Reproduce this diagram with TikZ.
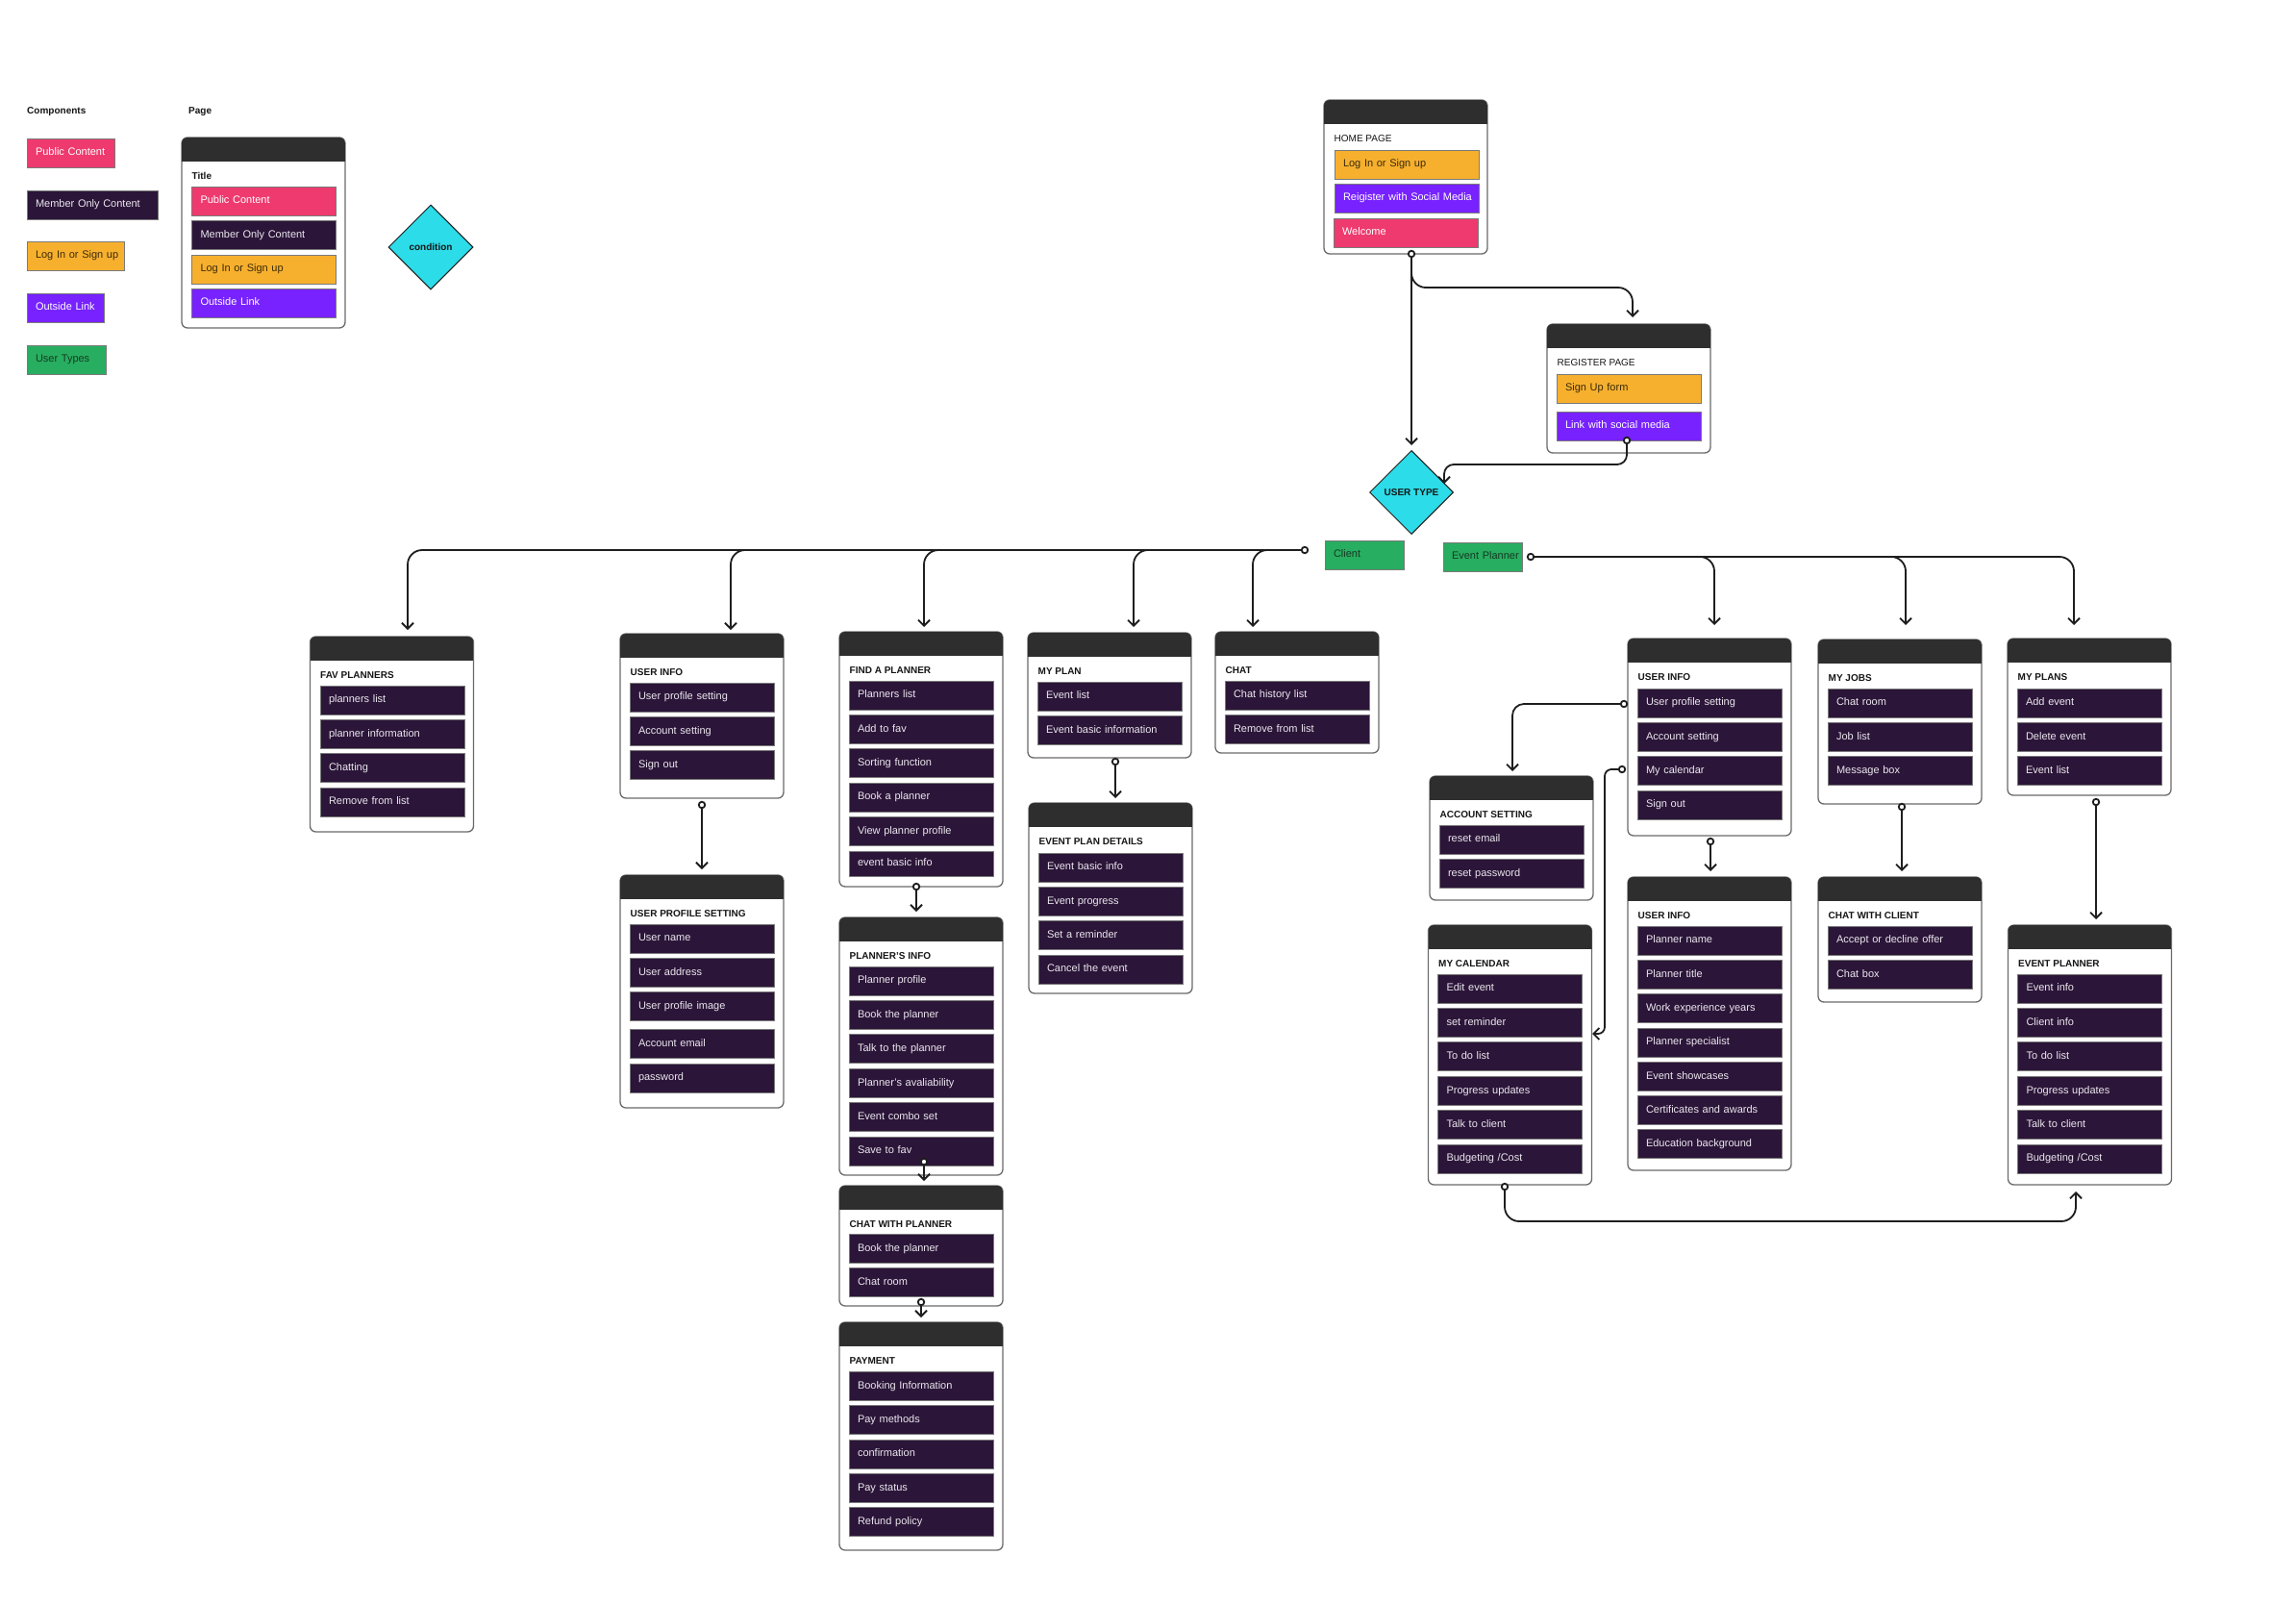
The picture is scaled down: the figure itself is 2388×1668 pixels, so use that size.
\documentclass[tikz,border=0pt]{standalone}
\usepackage{fontspec}
\setmainfont{Liberation Sans}
\usetikzlibrary{shapes.geometric,arrows.meta}
\definecolor{cPub}{HTML}{EE3A6E}
\definecolor{cMem}{HTML}{2B1538}
\definecolor{cMemT}{HTML}{ECE8F0}
\definecolor{cLog}{HTML}{F7B02E}
\definecolor{cLogT}{HTML}{3A2A0A}
\definecolor{cOut}{HTML}{7722FF}
\definecolor{cUsr}{HTML}{28AE60}
\definecolor{cUsrT}{HTML}{163A24}
\definecolor{cCond}{HTML}{2CDCE8}
\definecolor{cHdr}{HTML}{2E2E2E}
\definecolor{cLine}{HTML}{1E1E1E}
\definecolor{cBord}{HTML}{6A6A6A}
\definecolor{cIB}{HTML}{7A7A7A}
\definecolor{cTtl}{HTML}{151515}
\tikzset{
  pg/.style={rectangle, draw=cBord, line width=1.3pt, fill=white, rounded corners=6pt,
    anchor=north west, inner sep=0pt, outer sep=0pt, minimum width=170pt},
  ttl/.style={anchor=base west, inner sep=0pt, text=cTtl},
  hd/.style={anchor=base west, inner sep=0pt, text=cTtl, font=\fontsize{10}{12}\selectfont\bfseries},
  itm/.style={rectangle, draw=cIB, line width=0.8pt, anchor=north west, minimum height=30pt,
    text width=132pt, inner xsep=9pt, inner ysep=0pt, align=left, outer sep=0pt,
    font=\fontsize{11}{13}\selectfont, text height=7.8pt, text depth=2.2pt},
  mem/.style={itm, fill=cMem, text=cMemT},
  pub/.style={itm, fill=cPub, text=white},
  logs/.style={itm, fill=cLog, text=cLogT},
  outl/.style={itm, fill=cOut, text=white},
  usr/.style={itm, fill=cUsr, text=cUsrT},
  dia/.style={diamond, draw=cLine, line width=1pt, fill=cCond, aspect=1, inner sep=0pt,
    font=\fontsize{10}{12}\selectfont\bfseries, text=cTtl},
  pin/.style={circle, draw=cLine, line width=1.8pt, fill=white, minimum size=6.5pt, inner sep=0pt},
  conn/.style={draw=cLine, line width=1.8pt, rounded corners=15pt,
    -{Straight Barb[length=6pt,width=12pt]}},
}
\newcommand\pbox[6][\bfseries]{%
  \node[pg, minimum height={(#5-#4)*1pt}] (#2) at (#3,#4) {};
  \begin{scope}
    \clip[rounded corners=6pt] (#2.north west) rectangle (#2.south east);
    \fill[cHdr] (#2.north west) rectangle ([yshift=-25pt]#2.north east);
  \end{scope}
  \node[ttl, font=\fontsize{10}{12}\selectfont#1] (#2-t) at ([xshift=10.5pt,yshift=-43.6pt]#2.north west) {#6};
}
\newcommand\itemlist[6][35.3]{%
  \foreach \t [count=\i] in {#6} {
    \node[#2] (#3-\i) at (#4, {#5+(\i-1)*#1}) {\mbox{\t}};
  }
}
\begin{document}
\begin{tikzpicture}[x=1pt,y=-1pt]
\fill[white] (0,0) rectangle (2388,1668);
\useasboundingbox (0,0) rectangle (2388,1668);

% ---------- legend ----------
\node[hd] (lgc) at (28,118.6) {Components};
\node[hd] (lgpg) at (196,118.6) {Page};
\node[pub, text width=73pt] (lg1) at (28,144) {\mbox{Public Content}};
\node[mem, text width=118pt] (lg2) at (28,198) {\mbox{Member Only Content}};
\node[logs, text width=83pt] (lg3) at (28,251) {\mbox{Log In or Sign up}};
\node[outl, text width=62pt] (lg4) at (28,305) {\mbox{Outside Link}};
\node[usr, text width=64pt] (lg5) at (28,359) {\mbox{User Types}};

\pbox{lgp}{189}{143}{341}{Title}
\node[pub] (lgp-1) at (199.5,194) {\mbox{Public Content}};
\node[mem] (lgp-2) at (199.5,229.5) {\mbox{Member Only Content}};
\node[logs] (lgp-3) at (199.5,265) {\mbox{Log In or Sign up}};
\node[outl] (lgp-4) at (199.5,300) {\mbox{Outside Link}};

\node[dia, minimum size=88pt] (cond) at (448,257) {condition};

% ---------- entry ----------
\pbox[\mdseries]{home}{1377}{104}{264}{HOME PAGE}
\node[logs] (home-1) at (1388,156) {\mbox{Log In or Sign up}};
\node[outl] (home-2) at (1388,191) {\mbox{Reigister with Social Media}};
\node[pub] (home-3) at (1387,227) {\mbox{Welcome}};

\pbox[\mdseries]{reg}{1609}{337}{471}{REGISTER PAGE}
\node[logs] (reg-1) at (1619,389) {\mbox{Sign Up form}};
\node[outl] (reg-2) at (1619,428) {\mbox{Link with social media}};

\node[dia, minimum size=87pt] (ut) at (1468,512) {USER TYPE};

\node[usr, text width=64pt] (client) at (1378,562) {\mbox{Client}};
\node[usr, text width=64pt] (planner) at (1501,564) {\mbox{Event Planner}};

% ---------- client pages ----------
\pbox{fav}{322.5}{662}{865}{FAV PLANNERS}
\itemlist{mem}{fav}{333}{713}{planners list, planner information, Chatting, Remove from list}

\pbox{cui}{645}{659}{830}{USER INFO}
\itemlist{mem}{cui}{655}{710}{User profile setting, Account setting, Sign out}

\pbox{ups}{645}{910}{1152}{USER PROFILE SETTING}
\itemlist{mem}{ups}{655}{961}{User name, User address, User profile image}
\node[mem] (ups-4) at (655,1070.5) {\mbox{Account email}};
\node[mem] (ups-5) at (655,1106) {\mbox{password}};

\pbox{fap}{873}{657}{922}{FIND A PLANNER}
\itemlist{mem}{fap}{883}{708}{Planners list, Add to fav, Sorting function, Book a planner, View planner profile}
\node[mem, minimum height=26pt] (fap-6) at (883,885) {\mbox{event basic info}};

\pbox{pli}{873}{954}{1222}{PLANNER’S INFO}
\itemlist[35.4]{mem}{pli}{883}{1005}{Planner profile, Book the planner, Talk to the planner, Planner’s avaliability, Event combo set, Save to fav}

\pbox{cwp}{873}{1233}{1358}{CHAT WITH PLANNER}
\itemlist{mem}{cwp}{883}{1283.5}{Book the planner, Chat room}

\pbox{pay}{873}{1375}{1612}{PAYMENT}
\itemlist{mem}{pay}{883}{1426.5}{Booking Information, Pay methods, confirmation, Pay status, Refund policy}

\pbox{mpl}{1069}{658}{788}{MY PLAN}
\itemlist{mem}{mpl}{1079}{709}{Event list, Event basic information}

\pbox{epd}{1070}{835}{1033}{EVENT PLAN DETAILS}
\itemlist{mem}{epd}{1080}{887}{Event basic info, Event progress, Set a reminder, Cancel the event}

\pbox{cht}{1264}{657}{783}{CHAT}
\itemlist{mem}{cht}{1274}{708}{Chat history list, Remove from list}

% ---------- planner pages ----------
\pbox{eui}{1693}{664}{869}{USER INFO}
\itemlist{mem}{eui}{1703}{716}{User profile setting, Account setting, My calendar, Sign out}

\pbox{mjb}{1891}{665}{836}{MY JOBS}
\itemlist{mem}{mjb}{1901}{716}{Chat room, Job list, Message box}

\pbox{mps}{2088}{664}{827}{MY PLANS}
\itemlist{mem}{mps}{2098}{716}{Add event, Delete event, Event list}

\pbox{acc}{1487}{807}{936}{ACCOUNT SETTING}
\itemlist{mem}{acc}{1497}{858}{reset email, reset password}

\pbox{cal}{1485.5}{962}{1232}{MY CALENDAR}
\itemlist[35.4]{mem}{cal}{1495.5}{1013}{Edit event, set reminder, To do list, Progress updates, Talk to client, Budgeting /Cost}

\pbox{ui2}{1693}{912}{1217}{USER INFO}
\itemlist{mem}{ui2}{1703}{963}{Planner name, Planner title, Work experience years, Planner specialist, Event showcases, Certificates and awards, Education background}

\pbox{cwc}{1891}{912}{1042}{CHAT WITH CLIENT}
\itemlist{mem}{cwc}{1901}{963}{Accept or decline offer, Chat box}

\pbox{evp}{2088.5}{962}{1232}{EVENT PLANNER}
\itemlist[35.4]{mem}{evp}{2098.5}{1013}{Event info, Client info, To do list, Progress updates, Talk to client, Budgeting /Cost}

% ---------- connector start pins ----------
\node[pin] (p-home) at (1468,264) {};
\node[pin] (p-reg) at (1692,458) {};
\node[pin] (p-cli) at (1357,572) {};
\node[pin] (p-pla) at (1592,579) {};
\node[pin] (p-cui) at (730,837) {};
\node[pin] (p-fap) at (953,922) {};
\node[pin] (p-pli) at (961,1208) {};
\node[pin] (p-cwp) at (958,1354) {};
\node[pin] (p-mpl) at (1160,792) {};
\node[pin] (p-eui1) at (1689,732) {};
\node[pin] (p-eui2) at (1687,800) {};
\node[pin] (p-eui3) at (1779,875) {};
\node[pin] (p-mjb) at (1978,839) {};
\node[pin] (p-mps) at (2180,834) {};
\node[pin] (p-cal) at (1565,1234) {};

% ---------- arrow targets ----------
\coordinate (t-ut) at (1468,463);
\coordinate (t-reg) at (1698,330);
\coordinate (t-ut2) at (1502,503);
\coordinate (t-fav) at (424,655);
\coordinate (t-cui) at (760,655);
\coordinate (t-fap) at (961,652);
\coordinate (t-mpl) at (1179,652);
\coordinate (t-cht) at (1303,652);
\coordinate (t-eui) at (1783,650);
\coordinate (t-mjb) at (1982,650);
\coordinate (t-mps) at (2157,650);
\coordinate (t-ups) at (730,904);
\coordinate (t-pli) at (953,948);
\coordinate (t-cwp) at (961,1228);
\coordinate (t-pay) at (958,1370);
\coordinate (t-epd) at (1160,830);
\coordinate (t-acc) at (1573,802);
\coordinate (t-cal) at (1656,1075);
\coordinate (t-ui2) at (1779,906);
\coordinate (t-cwc) at (1978,906);
\coordinate (t-evp) at (2180,956);
\coordinate (t-evp2) at (2159,1239);

% ---------- connectors ----------
\draw[conn] (p-home) -- (t-ut);
\draw[conn] (p-home) |- (1698,299) -- (t-reg);
\draw[conn, rounded corners=10pt] (p-reg) |- (1502,483) -- (t-ut2);
\foreach \t in {t-fav,t-cui,t-fap,t-mpl,t-cht} \draw[conn] (p-cli) -| (\t);
\foreach \t in {t-eui,t-mjb,t-mps} \draw[conn] (p-pla) -| (\t);
\draw[conn] (p-cui) -- (t-ups);
\draw[conn] (p-fap) -- (t-pli);
\draw[conn] (p-pli) -- (t-cwp);
\draw[conn] (p-cwp) -- (t-pay);
\draw[conn] (p-mpl) -- (t-epd);
\draw[conn, rounded corners=12pt] (p-eui1) -| (t-acc);
\draw[conn, rounded corners=7pt] (p-eui2) -| (1669,1075) -- (t-cal);
\draw[conn] (p-eui3) -- (t-ui2);
\draw[conn] (p-mjb) -- (t-cwc);
\draw[conn] (p-mps) -- (t-evp);
\draw[conn] (p-cal) |- (2159,1270) -- (t-evp2);
\end{tikzpicture}
\end{document}
